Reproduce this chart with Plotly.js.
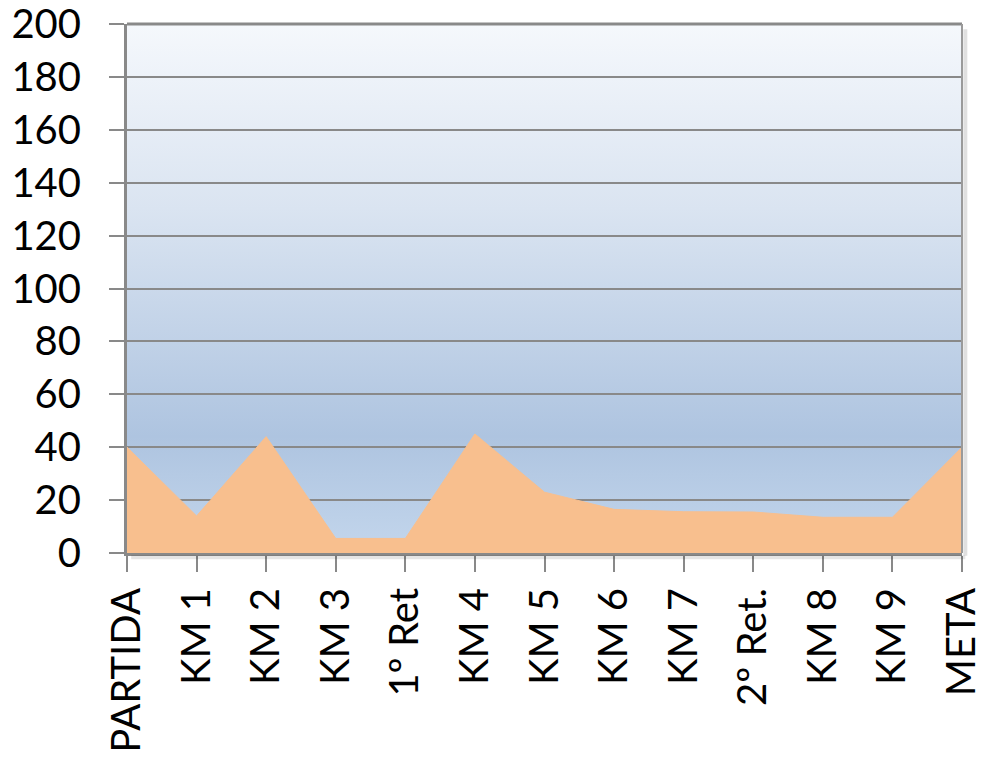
<!DOCTYPE html>
<html>
<head>
<meta charset="utf-8">
<script src="https://cdn.plot.ly/plotly-3.0.1.min.js"></script>
<style>html,body{margin:0;padding:0;background:#fff;}#chart{width:984px;height:759px;}</style>
</head>
<body>
<div id="chart"></div>
<script>
const categories = ["PARTIDA","KM 1","KM 2","KM 3","1º Ret","KM 4","KM 5","KM 6","KM 7","2º Ret.","KM 8","KM 9","META"];
const values = [40, 14, 44, 5.5, 5.5, 45, 23, 16.5, 15.6, 15.5, 13.5, 13.5, 40];
const yTicks = [0, 20, 40, 60, 80, 100, 120, 140, 160, 180, 200];

const grad = '<svg xmlns="http://www.w3.org/2000/svg" width="100" height="100" preserveAspectRatio="none">' +
  '<defs><linearGradient id="g" x1="0" y1="0" x2="0" y2="1">' +
  '<stop offset="0" stop-color="#f5f8fc"/>' +
  '<stop offset="0.35" stop-color="#dae4f1"/>' +
  '<stop offset="0.78" stop-color="#aec4e0"/>' +
  '<stop offset="1" stop-color="#c3d6ec"/>' +
  '</linearGradient></defs><rect width="100" height="100" fill="url(#g)"/></svg>';

const trace = {
  x: categories,
  y: values,
  type: 'scatter',
  mode: 'lines',
  fill: 'tozeroy',
  fillcolor: '#f8bf8e',
  line: {color: '#f8bf8e', width: 1},
  hoverinfo: 'x+y'
};

const layout = {
  width: 984, height: 759,
  margin: {l: 127, r: 22, t: 24, b: 206},
  paper_bgcolor: '#ffffff',
  plot_bgcolor: 'rgba(0,0,0,0)',
  showlegend: false,
  font: {family: 'Lato, Calibri, sans-serif', size: 40, color: '#000'},
  images: [{
    source: 'data:image/svg+xml;charset=utf-8,' + encodeURIComponent(grad),
    xref: 'paper', yref: 'paper', x: 0, y: 1, sizex: 1, sizey: 1,
    sizing: 'stretch', layer: 'below', xanchor: 'left', yanchor: 'top'
  }],
  xaxis: {
    type: 'category',
    range: [0, categories.length - 1],
    tickangle: -90,
    ticks: 'outside', ticklen: 16, tickwidth: 2, tickcolor: '#898989',
    showline: true, linecolor: '#898989', linewidth: 3,
    showgrid: false, zeroline: false,
    ticklabelstandoff: 0,
    ticklabeloverflow: 'allow',
    tickfont: {family: 'Lato, Calibri, sans-serif', size: 40, color: '#000'}
  },
  yaxis: {
    range: [0, 200],
    tickvals: yTicks,
    ticktext: yTicks.map(String),
    ticks: 'outside', ticklen: 15, tickwidth: 2, tickcolor: '#898989',
    showline: true, linecolor: '#898989', linewidth: 3,
    showgrid: true, gridcolor: '#898989', gridwidth: 2,
    zeroline: false,
    ticklabelstandoff: 20,
    ticklabeloverflow: 'allow',
    tickfont: {family: 'Lato, Calibri, sans-serif', size: 40, color: '#000'}
  },
  shapes: [
    {type: 'line', xref: 'paper', yref: 'paper', x0: 0, x1: 1, y0: 1, y1: 1,
     line: {color: '#898989', width: 3}},
    {type: 'line', xref: 'paper', yref: 'paper', x0: 1, x1: 1, y0: 0, y1: 1,
     line: {color: '#9a9a9a', width: 2}},
    {type: 'line', xref: 'paper', yref: 'paper', x0: 1.004, x1: 1.004, y0: -0.005, y1: 0.99,
     line: {color: 'rgba(0,0,0,0.12)', width: 4}},
    {type: 'line', xref: 'paper', yref: 'paper', x0: 0.005, x1: 1.004, y0: -0.008, y1: -0.008,
     line: {color: 'rgba(0,0,0,0.10)', width: 4}}
  ]
};

Plotly.newPlot('chart', [trace], layout, {displayModeBar: false, staticPlot: true});
</script>
</body>
</html>
